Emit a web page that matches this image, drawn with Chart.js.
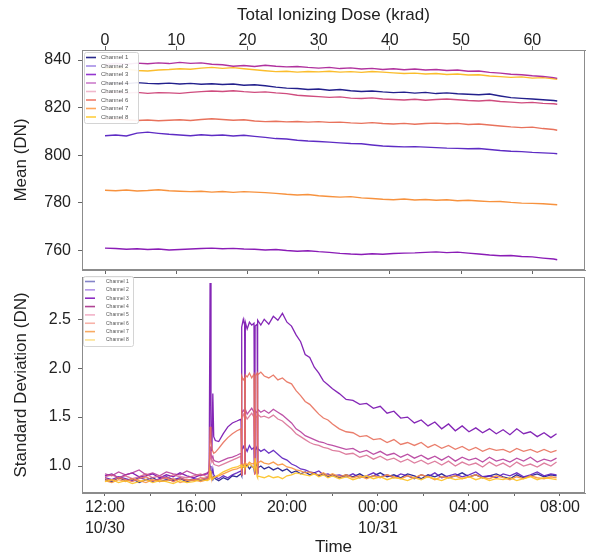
<!DOCTYPE html>
<html><head><meta charset="utf-8">
<script src="https://cdn.jsdelivr.net/npm/chart.js@4.4.1/dist/chart.umd.min.js"></script>
<style>
html,body{margin:0;padding:0;background:#fff;}
#wrap{position:relative;width:592px;height:560px;overflow:hidden;}
canvas{position:absolute;left:0;}
#c1{top:0;} #c2{top:275px;}
</style></head><body>
<div id="wrap"><canvas id="c1" width="592" height="275"></canvas><canvas id="c2" width="592" height="285"></canvas></div>
<script>
// ---------- DATA ----------
const channelNames = ['Channel 1','Channel 2','Channel 3','Channel 4','Channel 5','Channel 6','Channel 7','Channel 8'];

// Top panel: mean vs total ionizing dose (krad)
const doseKrad = [0,1.5,3,4.5,6,7.5,9,10.5,12,13.5,15,16.5,18,19.5,21,22.5,24,25.5,27,28.5,30,31.5,33,34.5,36,37.5,39,40.5,42,43.5,45,46.5,48,49.5,51,52.5,54,55.5,57,58.5,60,61.5,63,63.5];
const meanCh1 = [830.1,830.4,830.0,830.5,830.2,830.0,830.3,829.9,830.2,829.8,830.0,829.7,829.9,829.4,829.6,829.2,828.6,828.2,828.0,827.6,827.8,827.3,827.6,827.1,826.8,827.0,826.6,826.3,826.5,826.1,826.4,825.9,826.2,825.8,825.6,825.4,825.7,824.9,824.2,823.9,823.6,823.3,823.0,822.8];
const meanCh2 = [808.2,808.5,808.1,809.3,809.7,809.2,808.8,808.5,808.2,808.6,808.3,808.5,808.1,808.4,807.9,807.5,807.0,806.8,806.3,806.0,805.8,805.5,805.2,804.9,804.8,804.3,803.9,803.7,803.5,803.6,803.4,803.2,803.0,802.9,802.7,802.8,802.4,802.0,801.7,801.5,801.2,801.0,800.8,800.6];
const meanCh3 = [761.0,760.8,760.5,760.7,760.4,760.6,760.2,760.4,760.6,760.8,761.0,760.7,760.9,760.6,760.5,760.2,760.4,760.0,759.7,759.9,759.5,759.2,758.8,758.5,758.3,758.6,758.4,758.7,758.9,759.0,759.2,759.4,759.1,759.3,758.9,758.5,758.1,757.8,757.9,757.5,757.3,756.8,756.4,756.1];
const meanCh4 = [838.1,838.5,838.2,838.7,838.4,838.8,838.5,839.0,838.6,838.8,838.2,838.0,837.4,837.7,837.3,837.8,837.4,837.1,837.3,836.9,836.6,836.9,836.4,836.7,836.2,836.5,836.0,836.3,835.9,836.2,835.8,836.0,835.6,835.8,835.3,835.4,834.8,834.5,834.0,833.8,833.4,833.1,832.6,832.3];
const meanCh5 = [826.3,826.5,826.1,826.4,826.0,826.3,826.2,826.0,826.4,826.7,827.0,826.8,827.1,826.7,826.4,826.6,826.2,825.9,825.2,824.9,824.6,824.3,824.5,824.0,823.8,824.1,823.6,823.4,823.2,823.5,823.1,823.4,823.6,823.3,823.0,822.8,823.1,822.6,822.3,822.0,822.2,821.8,821.6,821.4];
const meanCh6 = [815.1,815.3,814.9,814.6,814.8,814.5,814.7,814.9,814.6,815.0,815.3,815.0,814.7,814.9,814.4,814.1,814.3,814.0,814.2,813.9,814.1,813.8,813.9,813.6,813.4,813.7,813.3,813.1,813.4,813.0,813.3,813.5,813.2,813.4,812.9,813.1,812.7,812.3,811.9,811.6,811.8,811.2,810.8,810.5];
const meanCh7 = [785.3,785.1,785.4,785.0,785.2,785.5,785.1,784.9,784.7,784.9,784.5,784.8,784.4,784.7,784.5,784.3,784.0,783.6,783.3,783.5,783.0,782.7,782.4,782.6,782.1,781.8,781.5,781.3,781.6,781.2,781.4,781.1,781.3,780.9,781.1,780.8,780.5,780.6,780.2,779.9,779.8,779.6,779.3,779.2];
const meanCh8 = [836.4,836.7,836.2,835.6,835.4,835.8,836.0,836.3,836.1,836.6,836.9,836.5,836.8,836.3,835.9,835.5,835.1,835.3,834.9,835.2,835.0,835.3,834.9,835.1,834.8,835.2,834.9,834.6,834.3,834.5,834.1,834.3,833.9,834.1,833.7,833.8,833.3,833.0,832.7,832.9,832.4,832.6,832.1,831.9];

// Bottom panel: standard deviation vs time (hours after 12:00 on 10/30)
const timeHours = [0,0.3,0.6,0.9,1.2,1.5,1.8,2.1,2.4,2.7,3.0,3.3,3.6,3.9,4.2,4.5,
  4.58,4.62,4.66,4.7,4.74,4.78,4.85,5.0,5.2,5.4,5.6,5.8,5.98,
  6.0,6.02,6.08,6.14,6.15,6.17,6.25,6.35,6.45,6.55,6.58,6.6,6.69,6.7,6.72,6.85,
  7.0,7.2,7.4,7.6,7.8,8.0,8.2,8.4,8.6,8.8,9.0,9.2,9.4,9.6,9.8,10.0,
  10.3,10.6,10.9,11.2,11.5,11.8,12.1,12.4,12.7,13.0,13.3,13.6,13.9,14.2,14.5,14.8,15.1,15.4,15.7,16.0,16.3,16.6,16.9,17.2,17.5,17.8,18.1,18.4,18.7,19.0,19.3,19.6,19.85];
const stdCh1 = [0.86,0.84,0.88,0.85,0.87,0.83,0.86,0.88,0.84,0.86,0.85,0.87,0.84,0.86,0.85,0.87,
  0.88,0.93,0.90,0.88,0.86,0.89,0.87,0.85,0.88,0.86,0.90,0.89,0.92,
  0.90,0.97,1.00,0.98,0.92,0.99,1.01,0.97,1.00,0.98,0.92,0.99,1.02,0.92,0.98,1.00,
  0.97,0.99,0.96,0.98,0.95,0.97,0.93,0.95,0.92,0.94,0.91,0.93,0.90,0.92,0.89,0.91,
  0.88,0.91,0.89,0.92,0.88,0.90,0.93,0.89,0.91,0.88,0.92,0.90,0.87,0.91,0.89,0.92,0.88,0.90,0.93,0.89,0.91,0.88,0.90,0.92,0.89,0.87,0.91,0.88,0.90,0.92,0.89,0.91,0.90];
const stdCh2 = [0.88,0.86,0.89,0.87,0.85,0.88,0.86,0.84,0.87,0.89,0.86,0.88,0.85,0.87,0.86,0.88,
  0.90,1.00,0.95,0.92,0.97,0.91,0.89,0.87,0.90,0.88,0.91,0.93,0.95,
  0.90,1.16,1.20,1.17,0.92,1.19,1.15,1.21,1.17,1.19,0.92,1.16,1.20,0.92,1.18,1.15,
  1.17,1.13,1.16,1.12,1.08,1.06,1.02,1.00,0.97,0.96,0.94,0.93,0.95,0.91,0.92,0.90,
  0.91,0.89,0.92,0.88,0.90,0.93,0.89,0.91,0.88,0.92,0.90,0.87,0.91,0.89,0.93,0.88,0.90,0.92,0.89,0.91,0.94,0.89,0.90,0.88,0.92,0.90,0.93,0.89,0.91,0.94,0.90,0.92,0.91];
const stdCh3 = [0.90,0.92,0.88,0.91,0.93,0.89,0.90,0.92,0.88,0.91,0.89,0.93,0.90,0.88,0.91,0.92,
  0.95,2.87,1.30,1.15,1.74,1.30,1.26,1.25,1.33,1.40,1.44,1.46,1.48,
  0.90,2.42,2.50,2.44,0.92,2.47,2.40,2.47,2.44,2.46,0.92,2.43,2.45,0.92,2.49,2.44,
  2.50,2.45,2.53,2.49,2.56,2.47,2.43,2.34,2.27,2.14,2.11,2.01,1.95,1.87,1.83,1.79,
  1.74,1.68,1.67,1.63,1.64,1.59,1.61,1.54,1.56,1.49,1.50,1.44,1.47,1.41,1.45,1.38,1.43,1.36,1.41,1.35,1.39,1.34,1.38,1.33,1.37,1.32,1.38,1.33,1.35,1.30,1.34,1.29,1.33];
const stdCh4 = [0.92,0.90,0.94,0.91,0.93,0.96,0.91,0.93,0.90,0.94,0.92,0.91,0.95,0.92,0.90,0.93,
  0.95,1.20,1.12,1.08,1.10,1.06,1.05,1.04,1.06,1.08,1.09,1.11,1.13,
  0.92,1.54,1.57,1.55,0.93,1.58,1.53,1.56,1.59,1.55,0.93,1.57,1.54,0.93,1.58,1.55,
  1.57,1.54,1.58,1.55,1.52,1.48,1.44,1.38,1.35,1.31,1.29,1.27,1.25,1.24,1.22,1.21,
  1.19,1.17,1.18,1.14,1.16,1.12,1.15,1.11,1.13,1.09,1.12,1.08,1.11,1.07,1.10,1.06,1.10,1.05,1.09,1.06,1.08,1.04,1.09,1.05,1.07,1.04,1.08,1.05,1.09,1.04,1.07,1.05,1.08];
const stdCh5 = [0.89,0.91,0.88,0.90,0.87,0.89,0.92,0.88,0.90,0.87,0.91,0.89,0.88,0.90,0.92,0.89,
  0.92,1.15,1.08,1.04,1.06,1.02,1.01,1.00,1.02,1.04,1.06,1.08,1.10,
  0.91,1.50,1.53,1.49,0.91,1.52,1.48,1.51,1.54,1.50,0.91,1.52,1.49,0.91,1.53,1.50,
  1.51,1.49,1.52,1.48,1.46,1.42,1.38,1.33,1.30,1.27,1.24,1.22,1.21,1.19,1.18,1.16,
  1.15,1.12,1.13,1.09,1.11,1.07,1.10,1.06,1.08,1.04,1.07,1.03,1.06,1.02,1.05,1.01,1.05,1.00,1.04,1.01,1.03,0.99,1.04,1.00,1.03,0.99,1.04,1.00,1.02,0.99,1.03,1.00,1.04];
const stdCh6 = [0.87,0.85,0.88,0.86,0.84,0.87,0.89,0.85,0.86,0.88,0.84,0.87,0.86,0.85,0.88,0.87,
  0.90,1.40,1.25,1.18,1.15,1.13,1.14,1.18,1.24,1.29,1.33,1.36,1.38,
  0.90,1.92,1.88,1.90,0.91,1.93,1.91,1.95,1.90,1.94,0.91,1.92,1.95,0.91,1.93,1.96,
  1.92,1.90,1.93,1.88,1.90,1.86,1.84,1.77,1.72,1.66,1.63,1.58,1.53,1.49,1.47,1.43,
  1.38,1.35,1.34,1.30,1.31,1.27,1.28,1.24,1.27,1.22,1.24,1.21,1.24,1.19,1.22,1.18,1.21,1.17,1.20,1.16,1.19,1.15,1.18,1.16,1.17,1.14,1.18,1.15,1.17,1.14,1.17,1.14,1.16];
const stdCh7 = [0.85,0.83,0.86,0.84,0.87,0.85,0.83,0.86,0.84,0.85,0.87,0.83,0.85,0.86,0.84,0.86,
  0.87,0.92,0.88,0.87,0.89,0.88,0.89,0.90,0.92,0.94,0.96,0.97,0.99,
  0.98,1.00,1.02,1.01,0.99,1.03,1.01,1.04,1.02,1.03,1.00,1.04,1.02,1.00,1.03,1.05,
  1.03,1.02,1.04,1.01,1.02,0.99,0.98,0.96,0.95,0.93,0.94,0.92,0.91,0.93,0.90,0.92,
  0.89,0.91,0.88,0.90,0.87,0.90,0.88,0.91,0.89,0.87,0.90,0.88,0.91,0.89,0.86,0.89,0.88,0.90,0.87,0.89,0.91,0.88,0.87,0.90,0.88,0.86,0.89,0.87,0.90,0.88,0.87,0.89,0.88];
const stdCh8 = [0.84,0.86,0.83,0.85,0.82,0.84,0.86,0.83,0.85,0.84,0.82,0.85,0.83,0.84,0.86,0.85,
  0.86,0.95,0.88,0.86,0.87,0.88,0.89,0.91,0.94,0.96,0.98,0.99,1.01,
  0.97,1.00,0.99,1.01,0.98,1.00,0.99,1.02,1.00,0.98,0.96,1.08,0.89,0.88,0.90,0.89,
  0.88,0.90,0.88,0.89,0.87,0.90,0.91,0.93,0.92,0.91,0.90,0.92,0.89,0.91,0.88,0.90,
  0.87,0.89,0.86,0.88,0.90,0.87,0.89,0.86,0.88,0.87,0.85,0.88,0.86,0.89,0.87,0.85,0.88,0.86,0.87,0.89,0.86,0.88,0.85,0.87,0.86,0.88,0.85,0.87,0.89,0.86,0.88,0.87,0.86];

// Tick labels
const doseTicks = [0,10,20,30,40,50,60];
const meanTicks = [760,780,800,820,840];
const stdTicks = [1.0,1.5,2.0,2.5];
const timeTickHours = [0,2,4,6,8,10,12,14,16,18,20];
const timeTickTimes = ['12:00','','16:00','','20:00','','00:00','','04:00','','08:00'];
const timeTickDates = ['10/30','','','','','','10/31','','','',''];

// ---------- STYLE ----------
const meanSeries = [meanCh1,meanCh2,meanCh3,meanCh4,meanCh5,meanCh6,meanCh7,meanCh8];
const stdSeries = [stdCh1,stdCh2,stdCh3,stdCh4,stdCh5,stdCh6,stdCh7,stdCh8];
const topLineColors = ['#23208c','#5e2cc4','#8a1cb6','#b0329e','#cf4c7e','#e8725c','#f7923e','#fbbd2c'];
const topLegendColors = ['#2a2a8c','#a58ee6','#9436d0','#cc7ecc','#f0b8cc','#ef7c6c','#ffa65c','#ffcf40'];
const botLineColors = ['rgba(28,22,140,0.9)','rgba(92,30,190,0.9)','rgba(122,20,176,0.92)','rgba(178,50,150,0.85)','rgba(214,96,136,0.8)','rgba(232,112,92,0.9)','rgba(248,148,62,0.9)','rgba(252,196,44,0.95)'];
const botLegendColors = ['#8484c8','#b294e8','#8c2cc2','#b04494','#f2b2c8','#f8b2a8','#f8aa62','#fde292'];

const FONT = '"Liberation Sans", Arial, Helvetica, sans-serif';
Chart.defaults.font.family = FONT;
Chart.defaults.color = '#222';

const noPad = s => { s.paddingTop = 0; s.paddingBottom = 0; s.paddingLeft = 0; s.paddingRight = 0; };

const framePlugin = {
  id: 'frame',
  afterDatasetsDraw(chart) {
    const {ctx, chartArea: a} = chart;
    ctx.save();
    ctx.strokeStyle = '#8c8c8c';
    ctx.lineWidth = 1;
    ctx.strokeRect(Math.round(a.left) + 0.5, Math.round(a.top) + 0.5, Math.round(a.width) - 1, Math.round(a.height) - 1);
    ctx.restore();
  }
};

const boxLegend = {
  id: 'boxLegend',
  afterDatasetsDraw(chart, args, o) {
    const {ctx, chartArea: a} = chart;
    const x0 = a.left + o.dx, y0 = a.top + o.dy;
    ctx.save();
    ctx.fillStyle = 'rgba(255,255,255,0.92)';
    ctx.strokeStyle = '#d4d4d4';
    ctx.lineWidth = 1;
    ctx.beginPath();
    if (ctx.roundRect) ctx.roundRect(x0 + 0.5, y0 + 0.5, o.w, o.h, 2); else ctx.rect(x0 + 0.5, y0 + 0.5, o.w, o.h);
    ctx.fill(); ctx.stroke();
    ctx.font = o.fontSize + 'px ' + FONT;
    ctx.textBaseline = 'middle';
    chart.data.datasets.forEach((d, i) => {
      const y = y0 + o.first + i * o.row;
      ctx.strokeStyle = o.colors[i];
      ctx.lineWidth = 1.6;
      ctx.beginPath(); ctx.moveTo(x0 + 2, y); ctx.lineTo(x0 + 12, y); ctx.stroke();
      ctx.fillStyle = '#555';
      ctx.fillText(d.label, x0 + o.textX, y);
    });
    ctx.restore();
  }
};

// ---------- TOP CHART ----------
const topDatasets = meanSeries.map((arr, i) => ({
  label: channelNames[i],
  data: doseKrad.map((x, j) => ({x: x, y: arr[j]})),
  borderColor: topLineColors[i],
  borderWidth: 1.4,
  pointRadius: 0,
  tension: 0,
  fill: false,
  xAxisID: 'x', yAxisID: 'y'
}));

new Chart(document.getElementById('c1'), {
  type: 'line',
  data: {datasets: topDatasets},
  plugins: [framePlugin, boxLegend],
  options: {
    responsive: false, animation: false, devicePixelRatio: 1,
    layout: {padding: {left: 0, right: 7, top: 0, bottom: 0}},
    plugins: {
      legend: {display: false}, tooltip: {enabled: false},
      boxLegend: {dx: 2, dy: 2, w: 54, h: 71, first: 5.5, row: 8.5, textX: 17, fontSize: 6, colors: topLegendColors}
    },
    scales: {
      x: {
        type: 'linear', position: 'top', min: -3.23, max: 67.4,
        afterBuildTicks: s => { s.ticks = doseTicks.map(v => ({value: v})); },
        afterFit: s => { s.height = 50; noPad(s); },
        ticks: {font: {size: 16}, padding: -4, color: '#222', maxRotation: 0, autoSkip: false},
        grid: {drawOnChartArea: false, tickLength: 4, color: '#666'},
        border: {color: '#8c8c8c'},
        title: {display: true, text: 'Total Ionizing Dose (krad)', font: {size: 17}, padding: {top: 5, bottom: 0}, color: '#222'}
      },
      xb: {
        type: 'linear', position: 'bottom', min: -3.23, max: 67.4,
        afterBuildTicks: s => { s.ticks = doseTicks.map(v => ({value: v})); },
        afterFit: s => { s.height = 5; noPad(s); },
        ticks: {display: false},
        grid: {drawOnChartArea: false, tickLength: 4, color: '#666'},
        border: {color: '#8c8c8c'}
      },
      y: {
        type: 'linear', position: 'left', min: 751.8, max: 844.2,
        afterBuildTicks: s => { s.ticks = meanTicks.map(v => ({value: v})); },
        afterFit: s => { s.width = 82; noPad(s); },
        ticks: {font: {size: 16}, padding: 7, color: '#222'},
        grid: {drawOnChartArea: false, tickLength: 4, color: '#666'},
        border: {color: '#8c8c8c'},
        title: {display: true, text: 'Mean (DN)', font: {size: 17}, padding: {top: 11, bottom: 0}, color: '#222'}
      }
    }
  }
});

// ---------- BOTTOM CHART ----------
const botDatasets = stdSeries.map((arr, i) => ({
  label: channelNames[i],
  data: timeHours.map((x, j) => ({x: x, y: arr[j]})),
  borderColor: botLineColors[i],
  borderWidth: 1.3,
  pointRadius: 0,
  tension: 0,
  fill: false,
  order: 8 - i
}));

new Chart(document.getElementById('c2'), {
  type: 'line',
  data: {datasets: botDatasets},
  plugins: [framePlugin, boxLegend],
  options: {
    responsive: false, animation: false, devicePixelRatio: 1,
    layout: {padding: {left: 0, right: 7, top: 2, bottom: 0}},
    plugins: {
      legend: {display: false}, tooltip: {enabled: false},
      boxLegend: {dx: 1, dy: -1, w: 50, h: 70, first: 5.5, row: 8.35, textX: 23, fontSize: 5, colors: botLegendColors}
    },
    scales: {
      x: {
        type: 'linear', position: 'bottom', min: -1.01, max: 21.1,
        afterBuildTicks: s => { s.ticks = timeTickHours.map(v => ({value: v})); },
        afterFit: s => { s.height = 67; noPad(s); },
        ticks: {
          font: {size: 16, lineHeight: 1.3}, padding: 1, color: '#222', maxRotation: 0, autoSkip: false,
          callback: (v) => {
            const k = timeTickHours.indexOf(v);
            if (k < 0 || !timeTickTimes[k]) return '';
            return timeTickDates[k] ? [timeTickTimes[k], timeTickDates[k]] : timeTickTimes[k];
          }
        },
        grid: {drawOnChartArea: false, tickLength: 3, color: '#666'},
        border: {color: '#8c8c8c'},
        title: {display: true, text: 'Time', font: {size: 17}, padding: {top: 0, bottom: 2}, color: '#222'}
      },
      y: {
        type: 'linear', position: 'left', min: 0.724, max: 2.932,
        afterBuildTicks: s => { s.ticks = stdTicks.map(v => ({value: v})); },
        afterFit: s => { s.width = 82; noPad(s); },
        ticks: {font: {size: 16}, padding: 7, color: '#222', callback: v => v.toFixed(1)},
        grid: {drawOnChartArea: false, tickLength: 4, color: '#666'},
        border: {color: '#8c8c8c'},
        title: {display: true, text: 'Standard Deviation (DN)', font: {size: 17}, padding: {top: 11, bottom: 0}, color: '#222'}
      }
    }
  }
});
</script>
</body></html>
